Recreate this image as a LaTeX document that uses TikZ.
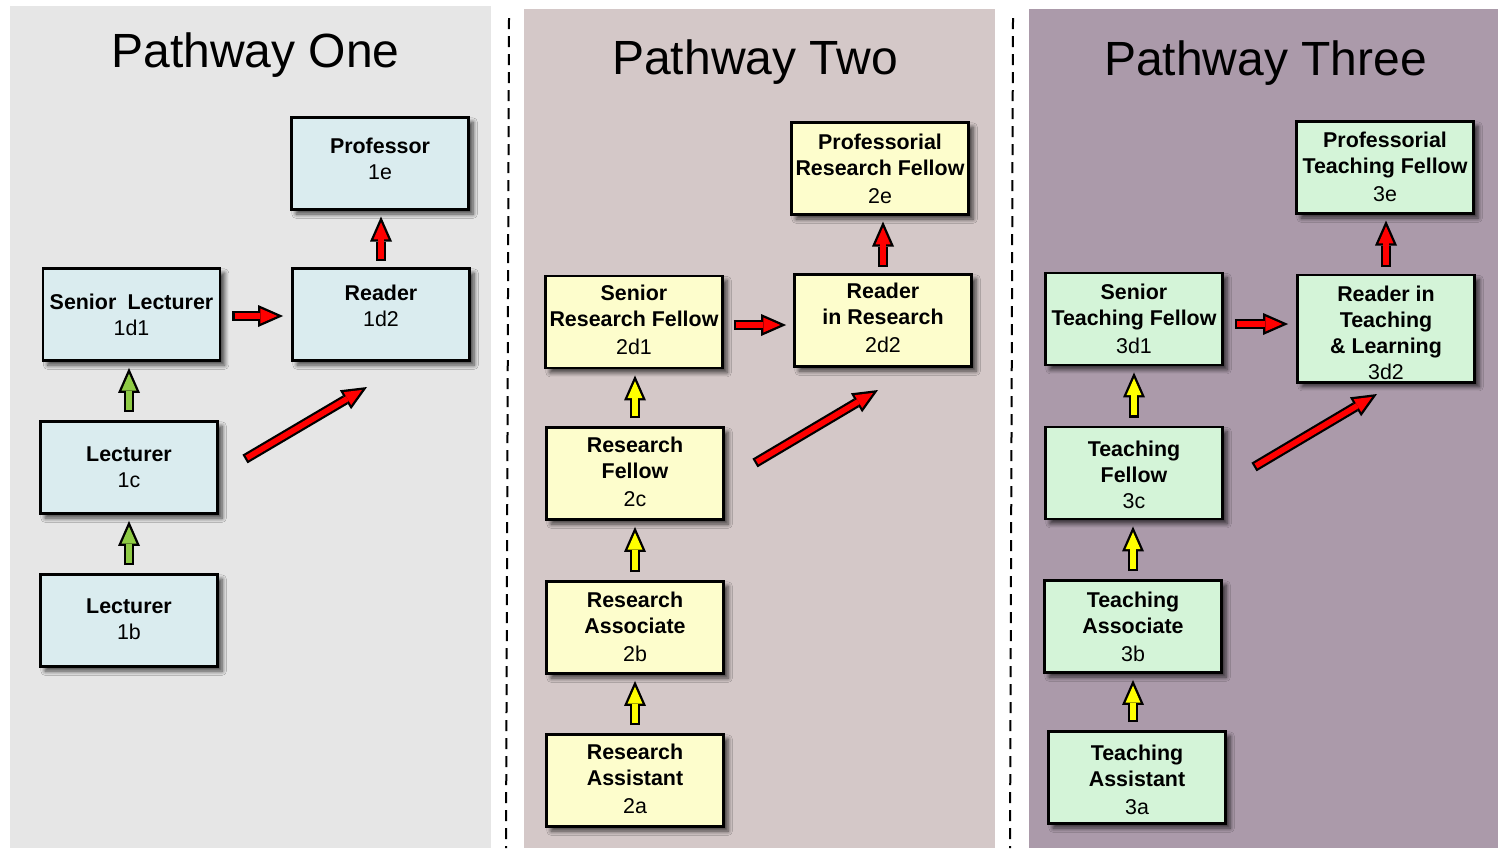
\documentclass[tikz,border=0pt]{standalone}
\usepackage{fontspec}
\setmainfont{Liberation Sans}
\usetikzlibrary{arrows.meta,calc,shadows.blur}
\definecolor{panelA}{HTML}{E6E6E6}
\definecolor{panelB}{HTML}{D4C8C8}
\definecolor{panelC}{HTML}{AB9AAA}
\definecolor{boxA}{HTML}{DAECEF}
\definecolor{boxB}{HTML}{FDFDCC}
\definecolor{boxC}{HTML}{D4F4D8}
\definecolor{arrRed}{HTML}{FF0000}
\definecolor{arrGreen}{HTML}{8FCB45}
\definecolor{arrYellow}{HTML}{FFFF00}
\newcommand\blockarr[5]{%
  \pgfmathsetmacro\innerS{#4+1.1}%
  \pgfmathsetmacro\innerE{#5+2.9}%
  \draw[black, line width=5pt, line cap=butt,
        -{Triangle[length=12.5pt,width=11pt,line width=0pt]},
        shorten <=#4pt, shorten >=#5pt] #2 -- #3;
  \draw[#1, line width=2.8pt, line cap=butt,
        -{Triangle[length=8.5pt,width=7.5pt,line width=0pt]},
        shorten <=\innerS pt, shorten >=\innerE pt] #2 -- #3;
}
\newcommand\dn[1]{\rule[-#1]{0pt}{0pt}}
\newcommand\up[1]{\rule{0pt}{#1}}
\tikzset{
  title/.style={font=\fontsize{24pt}{28pt}\selectfont, anchor=base},
  rolebox/.style={draw=black, line width=1.4pt, minimum width=88.5pt,
    minimum height=46pt, align=center, inner sep=1pt,
    font=\fontsize{10.7pt}{13pt}\selectfont,
    blur shadow={shadow xshift=2.3pt, shadow yshift=-2.3pt, shadow blur steps=6, shadow opacity=70}},
  boxOne/.style={rolebox, fill=boxA},
  boxTwo/.style={rolebox, fill=boxB},
  boxThree/.style={rolebox, fill=boxC},
  divider/.style={black, line width=1pt, dash pattern=on 5.5pt off 3.5pt}
}
\begin{document}
\begin{tikzpicture}[x=0.5pt,y=-0.5pt]
\useasboundingbox (0,0) rectangle (1498,848);
\fill[white] (0,0) rectangle (1498,848);
% panels
\fill[panelA] (10,6) rectangle (491,848);
\fill[panelB] (524,9) rectangle (995,848);
\fill[panelC] (1029,9) rectangle (1498,848);
\coordinate (dv1a) at (509,18);
\coordinate (dv1b) at (506,848);
\coordinate (dv2a) at (1013,18);
\coordinate (dv2b) at (1010,848);
\draw[divider] (dv1a) -- (dv1b);
\draw[divider] (dv2a) -- (dv2b);
% titles
\node[title] (t1) at (255.5,67) {Pathway One};
\node[title] (t2) at (755,74) {Pathway Two};
\node[title] (t3) at (1265.5,75) {Pathway Three};
% pathway one
\node[boxOne] (n1e) at (380,163.5) {\textbf{Professor}\\1e\dn{5.2pt}};
\node[boxOne] (n1d1) at (131.5,314.5) {\textbf{Senior\hspace{0.25em} Lecturer}\\1d1};
\node[boxOne] (n1d2) at (381,314.5) {\textbf{Reader}\\1d2\dn{8.5pt}};
\node[boxOne] (n1c) at (129,467.5) {\textbf{Lecturer}\\1c};
\node[boxOne] (n1b) at (129,620.5) {\textbf{Lecturer}\\1b\dn{1pt}};
% pathway two
\node[boxTwo] (n2e) at (880,168.5) {\textbf{Professorial}\\\textbf{Research Fellow}\\[1pt]2e};
\node[boxTwo] (n2d1) at (634,322) {\textbf{Senior}\\\textbf{Research Fellow}\\[1pt]2d1\dn{2pt}};
\node[boxTwo] (n2d2) at (883,320.5) {\textbf{Reader}\\\textbf{in Research}\\[1pt]2d2\dn{2.5pt}};
\node[boxTwo] (n2c) at (635,473.5) {\textbf{Research}\\\textbf{Fellow}\\[1pt]2c\dn{2pt}};
\node[boxTwo] (n2b) at (635,627.5) {\textbf{Research}\\\textbf{Associate}\\[1pt]2b\dn{1pt}};
\node[boxTwo] (n2a) at (635,780.5) {\textbf{Research}\\\textbf{Assistant}\\[1pt]2a\dn{2pt}};
% pathway three
\node[boxThree] (n3e) at (1385,167.5) {\textbf{Professorial}\\\textbf{Teaching Fellow}\\[1pt]3e\dn{1pt}};
\node[boxThree] (n3d1) at (1134,319) {\textbf{Senior}\\\textbf{Teaching Fellow}\\[1pt]3d1};
\node[boxThree, minimum height=53pt] (n3d2) at (1386,328.5) {\up{12.5pt}\textbf{Reader in}\\\textbf{Teaching}\\\textbf{\& Learning}\\3d2};
\node[boxThree] (n3c) at (1134,473) {\up{10pt}\textbf{Teaching}\\\textbf{Fellow}\\3c};
\node[boxThree] (n3b) at (1133,626.5) {\textbf{Teaching}\\\textbf{Associate}\\[1pt]3b};
\node[boxThree] (n3a) at (1137,777.5) {\up{10pt}\textbf{Teaching}\\\textbf{Assistant}\\[1pt]3a};
% arrows pathway one
\blockarr{arrGreen}{(n1b.north)}{(n1b.north |- n1c.south)}{4}{3}
\blockarr{arrGreen}{(n1c.north)}{(n1c.north |- n1d1.south)}{4}{3}
\blockarr{arrRed}{(n1d2.north)}{(n1d2.north |- n1e.south)}{3.2}{2.8}
\blockarr{arrRed}{([yshift=-0.75pt]n1d1.east)}{([yshift=-0.75pt]n1d1.east -| n1d2.west)}{5.5}{4}
\coordinate (g1s) at (245,459);
\coordinate (g1e) at (367,387);
\blockarr{arrRed}{(g1s)}{(g1e)}{0}{0}
% arrows pathway two
\blockarr{arrYellow}{(n2a.north)}{(n2a.north |- n2b.south)}{4}{3}
\blockarr{arrYellow}{(n2b.north)}{(n2b.north |- n2c.south)}{4}{3}
\blockarr{arrYellow}{(n2c.north)}{(n2c.north |- n2d1.south)}{4}{3}
\blockarr{arrRed}{(n2d2.north)}{(n2d2.north |- n2e.south)}{3.2}{2.8}
\blockarr{arrRed}{([yshift=-1.5pt]n2d1.east)}{([yshift=-1.5pt]n2d1.east -| n2d2.west)}{5}{3.5}
\coordinate (g2s) at (755,463);
\coordinate (g2e) at (878,390);
\blockarr{arrRed}{(g2s)}{(g2e)}{0}{0}
% arrows pathway three
\blockarr{arrYellow}{([xshift=-2pt]n3a.north)}{([xshift=-2pt]n3a.north |- n3b.south)}{4}{3}
\blockarr{arrYellow}{(n3b.north)}{(n3b.north |- n3c.south)}{4}{3}
\blockarr{arrYellow}{(n3c.north)}{(n3c.north |- n3d1.south)}{4}{3}
\blockarr{arrRed}{(n3d2.north)}{(n3d2.north |- n3e.south)}{3.2}{2.8}
\blockarr{arrRed}{([yshift=-2.5pt]n3d1.east)}{([yshift=-2.5pt]n3d1.east -| n3d2.west)}{5.5}{4}
\coordinate (g3s) at (1254,467);
\coordinate (g3e) at (1377,394);
\blockarr{arrRed}{(g3s)}{(g3e)}{0}{0}
\end{tikzpicture}
\end{document}
